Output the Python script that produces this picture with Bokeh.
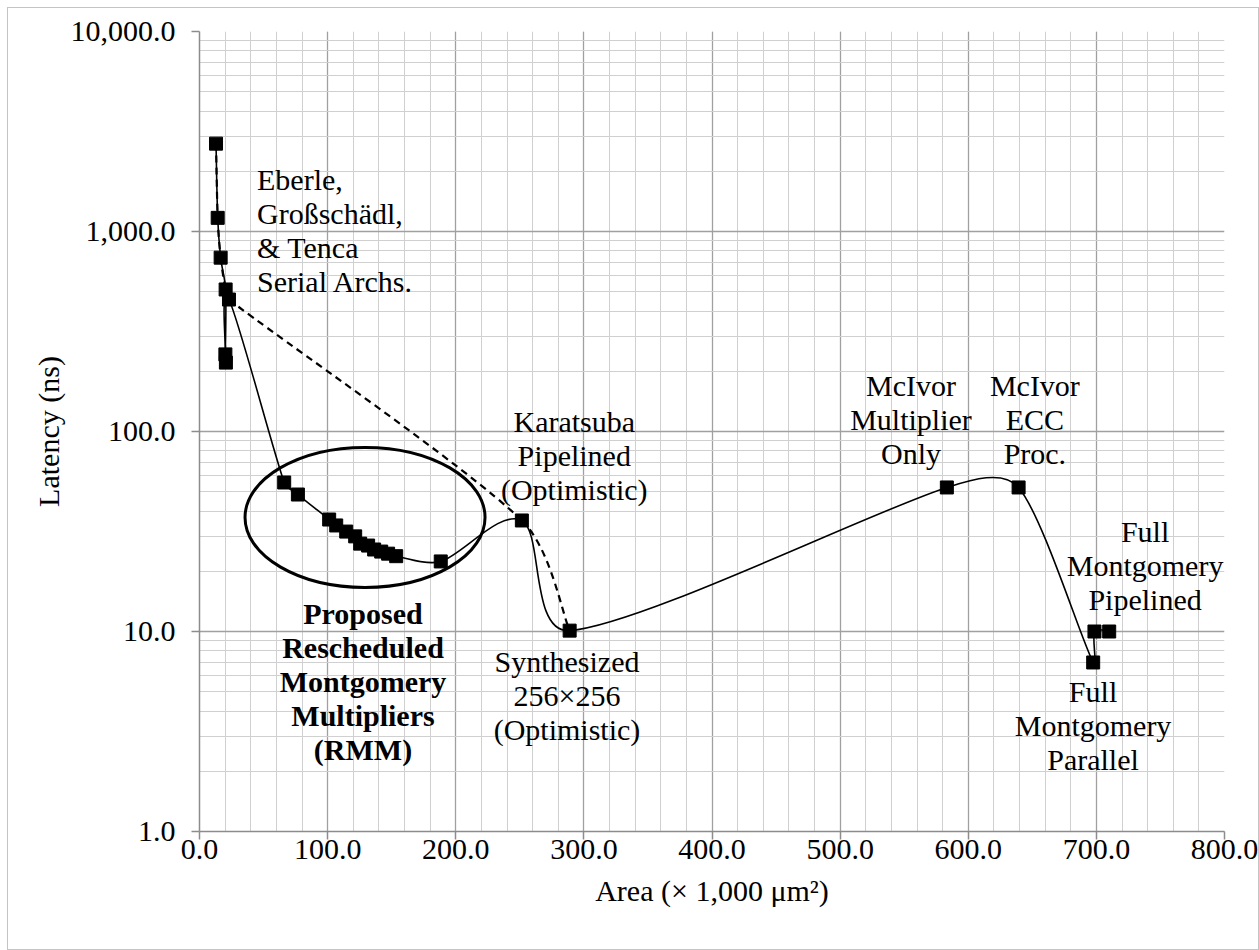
import math
from bokeh.plotting import figure
from bokeh.models import FixedTicker, NumeralTickFormatter, Label, Range1d, ColumnDataSource
from bokeh.embed import file_html
from bokeh.resources import INLINE

# ---------------- data ----------------
# solid series (all designs, in plotting order)
solid_area = [12.9, 14.2, 16.5, 20.4, 20.2, 20.6, 23.0,
              66.1, 76.8, 101.2, 106.7, 114.5, 121.5, 125.4, 131.6, 136.3, 141.8, 147.2, 153.5,
              188.3, 251.6, 288.9, 583.3, 639.3, 697.5, 698.5, 710.0]
solid_latency = [2750, 1170, 740, 513, 243, 221, 457,
                 55.6, 48.4, 36.3, 33.9, 31.6, 29.9, 27.5, 26.9, 25.7, 25.1, 24.5, 23.8,
                 22.4, 35.9, 10.1, 52.5, 52.5, 7.0, 10.0, 10.0]

# dashed series (frontier of prior designs)
dash_area = [12.9, 14.2, 16.5, 20.4, 23.0, 251.6, 288.9]
dash_latency = [2750, 1170, 740, 513, 457, 35.9, 10.1]

x_major = [0, 100, 200, 300, 400, 500, 600, 700, 800]
x_minor = [20 * i for i in range(41)]
y_major = [1, 10, 100, 1000, 10000]
y_minor = [m * 10 ** d for d in range(0, 4) for m in range(2, 10)]

x_title = "Area (× 1,000 μm²)"
y_title = "Latency (ns)"

# annotation blocks: lines, anchor area, anchor latency, alignment, bold
notes = [
    (["Eberle,", "Großschädl,", "& Tenca", "Serial Archs."], 44.9, 1820, "left", False),
    (["Karatsuba", "Pipelined", "(Optimistic)"], 292.5, 112, "center", False),
    (["Synthesized", "256×256", "(Optimistic)"], 286.8, 7.08, "center", False),
    (["McIvor", "Multiplier", "Only"], 555.3, 170, "center", False),
    (["McIvor", "ECC", "Proc."], 652.0, 170, "center", False),
    (["Full", "Montgomery", "Pipelined"], 738.0, 31.6, "center", False),
    (["Full", "Montgomery", "Parallel"], 697.4, 5.01, "center", False),
    (["Proposed", "Rescheduled", "Montgomery", "Multipliers", "(RMM)"], 127.6, 12.3, "center", True),
]

# RMM highlight ellipse centre (data) and size (screen px)
ell_area, ell_latency = 129.2, 37.2

FONT = "Liberation Serif"
FS = "30px"

# ---------------- figure ----------------
W, H = 1250, 941
ML, MR, MT, MB = 191, 34, 23, 118
p = figure(width=W, height=H, output_backend="svg", toolbar_location=None,
           y_axis_type="log", x_range=Range1d(0, 800), y_range=Range1d(1, 10000),
           min_border_left=ML, min_border_right=MR, min_border_top=MT, min_border_bottom=MB)
p.styles = {"margin-left": "8px", "margin-top": "8px", "outline": "1px solid #c4c4c4"}
p.outline_line_color = None
p.background_fill_color = "white"
p.border_fill_color = "white"

p.xaxis.ticker = FixedTicker(ticks=x_major, minor_ticks=x_minor)
p.yaxis.ticker = FixedTicker(ticks=y_major, minor_ticks=y_minor)
for ax in (p.xaxis, p.yaxis):
    ax.formatter = NumeralTickFormatter(format="0,0.0")
    ax.major_label_text_font = FONT
    ax.major_label_text_font_size = FS
    ax.major_label_text_color = "black"
    ax.axis_label_text_font = FONT
    ax.axis_label_text_font_size = FS
    ax.axis_label_text_font_style = "normal"
    ax.axis_label_text_color = "black"
    ax.axis_line_color = "#8c8c8c"
    ax.axis_line_width = 1.5
    ax.major_tick_line_color = "#8c8c8c"
    ax.major_tick_line_width = 1.5
    ax.major_tick_out = 8
    ax.major_tick_in = 0
    ax.minor_tick_line_color = None
p.xaxis.axis_label = x_title
p.yaxis.axis_label = y_title
p.xaxis.major_label_standoff = 0
p.yaxis.major_label_standoff = 16
p.xaxis.axis_label_standoff = 12
p.yaxis.axis_label_standoff = 3

for g in (p.xgrid, p.ygrid):
    g.grid_line_color = "#a0a0a0"
    g.grid_line_width = 1.3
    g.minor_grid_line_color = "#d0d0d0"
    g.minor_grid_line_width = 1.0

# smoothing (Excel-like) in screen-proportional space
frame_w = W - ML - MR
frame_h = H - MT - MB
SX = frame_w / 800.0
SY = frame_h / 4.0


def smooth(xs, ys):
    P = [(x * SX, math.log10(y) * SY) for x, y in zip(xs, ys)]
    n = len(P)
    out = {k: [] for k in ("x0", "y0", "x1", "y1", "cx0", "cy0", "cx1", "cy1")}

    def dist(a, b):
        return math.hypot(b[0] - a[0], b[1] - a[1])

    def back(pt):
        return pt[0] / SX, 10 ** (pt[1] / SY)

    def tangent(i):
        a = P[i - 1] if i > 0 else P[i]
        b = P[i + 1] if i + 1 < n else P[i]
        return ((b[0] - a[0]) / 6.0, (b[1] - a[1]) / 6.0)

    def capped(t, limit):
        ln = math.hypot(*t)
        if ln > limit and ln > 0:
            return (t[0] * limit / ln, t[1] * limit / ln)
        return t

    for i in range(n - 1):
        p1, p2 = P[i], P[i + 1]
        lim = dist(p1, p2) / 3.0
        t1 = capped(tangent(i), lim)
        t2 = capped(tangent(i + 1), lim)
        c1 = (p1[0] + t1[0], p1[1] + t1[1])
        c2 = (p2[0] - t2[0], p2[1] - t2[1])
        for key, pt in (("x0", p1), ("x1", p2), ("cx0", c1), ("cx1", c2)):
            bx, by = back(pt)
            out[key].append(bx)
            out[key.replace("x", "y")].append(by)
    return ColumnDataSource(out)


p.bezier(x0="x0", y0="y0", x1="x1", y1="y1", cx0="cx0", cy0="cy0", cx1="cx1", cy1="cy1",
         source=smooth(dash_area, dash_latency), line_color="black", line_width=2.2,
         line_dash="7 5")
p.bezier(x0="x0", y0="y0", x1="x1", y1="y1", cx0="cx0", cy0="cy0", cx1="cx1", cy1="cy1",
         source=smooth(solid_area, solid_latency), line_color="black", line_width=1.6)

p.scatter(solid_area, solid_latency, marker="square", size=13, color="black")

p.ellipse(x=[ell_area], y=[ell_latency], width=240, height=140,
          width_units="screen", height_units="screen",
          fill_color=None, line_color="black", line_width=3)

for lines, ax_, ay_, align, bold in notes:
    for i, t in enumerate(lines):
        p.add_layout(Label(x=ax_, y=ay_, y_offset=-34 * i, text=t,
                           text_font=FONT, text_font_size=FS,
                           text_font_style="bold" if bold else "normal",
                           text_align=align, text_baseline="middle",
                           text_color="black"))

open("out.html", "w").write(file_html(p, INLINE))
